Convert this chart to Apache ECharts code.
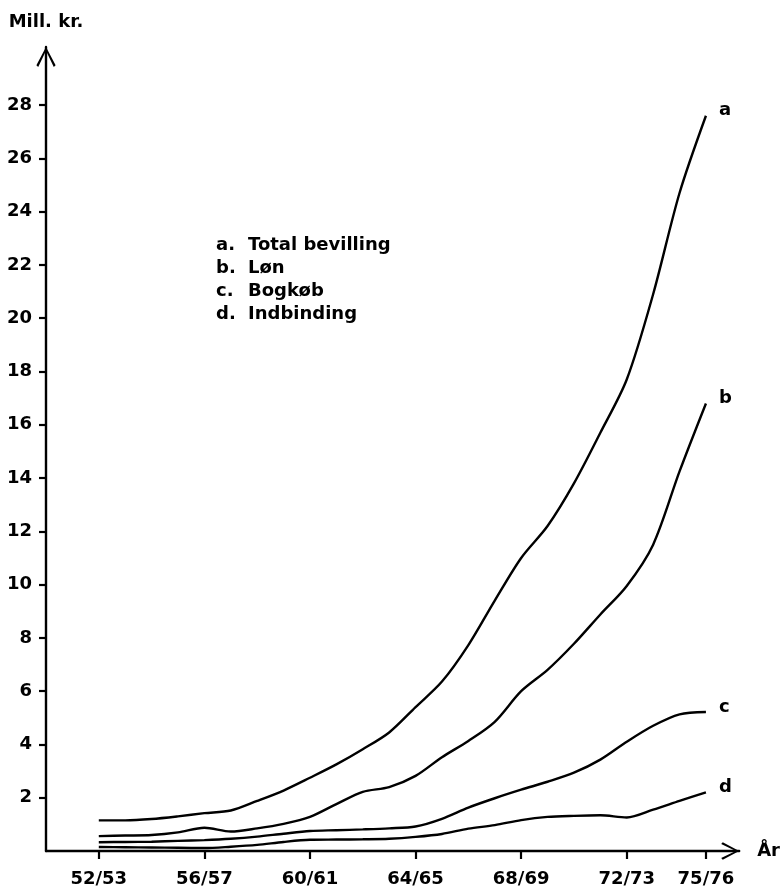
<!DOCTYPE html>
<html><head><meta charset="utf-8">
<script src="https://cdn.jsdelivr.net/npm/echarts@6/dist/echarts.min.js"></script>
<style>html,body{margin:0;padding:0;background:#fff}#c{width:783px;height:889px}</style>
</head><body><div id="c"></div>
<script>
const years = [52,53,54,55,56,57,58,59,60,61,62,63,64,65,66,67,68,69,70,71,72,73,74,75];
const totalBevilling = [1.15,1.15,1.2,1.3,1.42,1.52,1.88,2.27,2.75,3.25,3.82,4.45,5.4,6.36,7.73,9.4,11.0,12.2,13.8,15.7,17.7,20.9,24.7,27.6];
const loen = [0.56,0.58,0.6,0.7,0.87,0.73,0.85,1.02,1.28,1.76,2.22,2.4,2.82,3.52,4.13,4.85,6.0,6.8,7.78,8.88,9.95,11.5,14.25,16.8];
const bogkoeb = [0.33,0.34,0.35,0.38,0.41,0.46,0.54,0.65,0.75,0.78,0.81,0.85,0.92,1.21,1.63,1.98,2.3,2.6,2.94,3.43,4.1,4.7,5.13,5.22];
const indbinding = [0.15,0.14,0.13,0.12,0.11,0.16,0.23,0.34,0.42,0.43,0.44,0.46,0.53,0.64,0.84,0.97,1.16,1.28,1.32,1.34,1.26,1.55,1.88,2.2];
const seriesNames = ['Total bevilling','Løn','Bogkøb','Indbinding'];
const seriesLetters = ['a','b','c','d'];
const xTickYears = [52,56,60,64,68,72,75];
const yTickValues = [2,4,6,8,10,12,14,16,18,20,22,24,26,28];

const FONT = 'DejaVu Sans';
const FS = 18;
const FW = 'bold';
const arrowPath = 'path://M10,0 L20,19 L18.1,20.8 L10,4 L1.9,20.8 L0,19 Z';
const allValues = [totalBevilling, loen, bogkoeb, indbinding];

const chart = echarts.init(document.getElementById('c'), null, {renderer: 'canvas'});
chart.setOption({
  animation: false,
  backgroundColor: '#fff',
  textStyle: {fontFamily: FONT, color: '#000'},
  grid: {left: 46, right: 40, top: 47, bottom: 38, containLabel: false},
  legend: {
    orient: 'vertical', left: 206, top: 229, icon: 'none', itemWidth: 0, itemHeight: 14,
    itemGap: 0, selectedMode: false, data: seriesNames,
    formatter: function (name) {
      const i = seriesNames.indexOf(name);
      return '{l|' + seriesLetters[i] + '.}{t|' + name + '}';
    },
    textStyle: {
      fontFamily: FONT, fontSize: FS, fontWeight: FW, color: '#000', lineHeight: 23,
      rich: {
        l: {fontFamily: FONT, fontSize: FS, fontWeight: FW, color: '#000', width: 32, lineHeight: 23},
        t: {fontFamily: FONT, fontSize: FS, fontWeight: FW, color: '#000', lineHeight: 23}
      }
    }
  },
  xAxis: {
    type: 'value', min: 50, max: 76.26,
    name: 'År', nameLocation: 'end', nameGap: 18,
    nameTextStyle: {fontFamily: FONT, fontSize: FS, fontWeight: FW, color: '#000'},
    splitLine: {show: false},
    axisLine: {show: true, onZero: false, lineStyle: {color: '#000', width: 2.4},
      symbol: ['none', arrowPath], symbolSize: [24, 18], symbolOffset: [0, -9]},
    axisTick: {show: true, length: 8, lineStyle: {color: '#000', width: 2.2}, customValues: xTickYears},
    axisLabel: {show: true, margin: 19, fontFamily: FONT, fontSize: FS, fontWeight: FW, color: '#000',
      customValues: xTickYears, formatter: v => v + '/' + (v + 1)}
  },
  yAxis: {
    type: 'value', min: 0, max: 30.18,
    name: 'Mill. kr.', nameLocation: 'end', nameGap: 16,
    nameTextStyle: {fontFamily: FONT, fontSize: FS, fontWeight: FW, color: '#000'},
    splitLine: {show: false},
    axisLine: {show: true, lineStyle: {color: '#000', width: 2.4},
      symbol: ['none', arrowPath], symbolSize: [20, 20], symbolOffset: [0, -10]},
    axisTick: {show: true, length: 7, lineStyle: {color: '#000', width: 2.2}, customValues: yTickValues},
    axisLabel: {show: true, margin: 14, fontFamily: FONT, fontSize: FS, fontWeight: FW, color: '#000', customValues: yTickValues}
  },
  series: seriesNames.map((name, i) => ({
    name: name, type: 'line', smooth: 0.3, showSymbol: false, symbol: 'none',
    lineStyle: {color: '#000', width: 2.4}, itemStyle: {color: '#000'},
    data: years.map((y, k) => [y, allValues[i][k]]),
    endLabel: {show: true, formatter: seriesLetters[i], distance: 13, offset: [0, -5],
      fontFamily: FONT, fontSize: FS, fontWeight: FW, color: '#000'},
    emphasis: {disabled: true}
  }))
});
</script></body></html>
